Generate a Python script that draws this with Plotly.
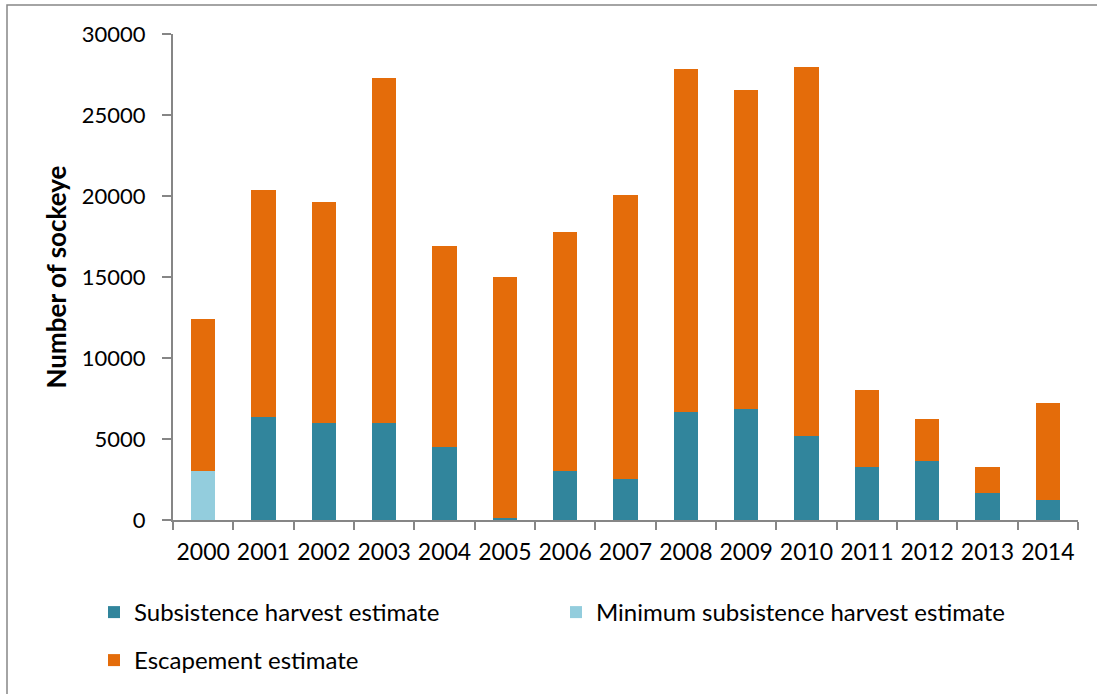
import plotly.graph_objects as go

# Yearly sockeye counts
years = ["2000", "2001", "2002", "2003", "2004", "2005", "2006", "2007",
         "2008", "2009", "2010", "2011", "2012", "2013", "2014"]
subsistence = [None, 6350, 6000, 6000, 4500, 150, 3050, 2550,
               6650, 6850, 5200, 3250, 3650, 1650, 1250]
min_subsistence = [3000, None, None, None, None, None, None, None,
                   None, None, None, None, None, None, None]
escapement = [9400, 14050, 13600, 21300, 12400, 14850, 14750, 17500,
              21200, 19700, 22750, 4800, 2600, 1650, 6000]

TEAL = "#31859C"
LIGHT = "#93CDDD"
ORANGE = "#E46C0A"
AXIS = "#868686"
FONT = "Lato"

W, H = 1097, 694
L, R, T, B = 173, 19, 34, 174

fig = go.Figure()
fig.add_trace(go.Bar(x=years, y=subsistence, name="Subsistence harvest estimate",
                     marker=dict(color=TEAL, line=dict(width=0)),
                     legend="legend", showlegend=True))
fig.add_trace(go.Bar(x=years, y=min_subsistence, name="Minimum subsistence harvest estimate",
                     marker=dict(color=LIGHT, line=dict(width=0)),
                     legend="legend2", showlegend=True))
fig.add_trace(go.Bar(x=years, y=escapement, name="Escapement estimate",
                     marker=dict(color=ORANGE, line=dict(width=0)),
                     legend="legend3", showlegend=True))

pw = W - L - R
ph = H - T - B


def legend_box(x_px, y_px):
    return dict(
        orientation="h",
        xref="container", yref="container",
        x=x_px / W, y=1 - y_px / H, xanchor="left", yanchor="top",
        font=dict(size=24, color="black"), bgcolor="rgba(0,0,0,0)",
    )


fig.update_layout(
    width=W, height=H,
    showlegend=True,
    margin=dict(l=L, r=R, t=T, b=B, autoexpand=False),
    barmode="stack",
    bargap=0.6,
    paper_bgcolor="white",
    plot_bgcolor="white",
    font=dict(family=FONT, size=22, color="black"),
    xaxis=dict(
        type="category",
        showline=True, linecolor=AXIS, linewidth=2,
        ticks="outside", ticklen=8, tickcolor=AXIS, tickwidth=2,
        tickson="boundaries",
        showgrid=False,
        tickangle=0,
        tickfont=dict(size=23),
        ticklabelstandoff=10,
    ),
    yaxis=dict(
        range=[0, 30000], dtick=5000, tickformat="d",
        showline=True, linecolor=AXIS, linewidth=2,
        ticks="outside", ticklen=9, tickcolor=AXIS, tickwidth=2,
        showgrid=False, zeroline=False,
        tickfont=dict(size=22),
        ticklabelstandoff=12,
        title=dict(text="<b>Number of sockeye</b>", font=dict(size=26), standoff=8),
    ),
    legend=legend_box(94, 590),
    legend2=legend_box(556, 590),
    legend3=legend_box(94, 638),
    shapes=[dict(
        type="rect", xref="paper", yref="paper",
        x0=(7 - L) / pw, x1=(W + 10 - L) / pw,
        y0=(H - B - (H + 10)) / ph, y1=(H - B - 5) / ph,
        line=dict(color=AXIS, width=1.5), fillcolor="rgba(0,0,0,0)",
        layer="below",
    )],
)

fig.write_html("out.html")
